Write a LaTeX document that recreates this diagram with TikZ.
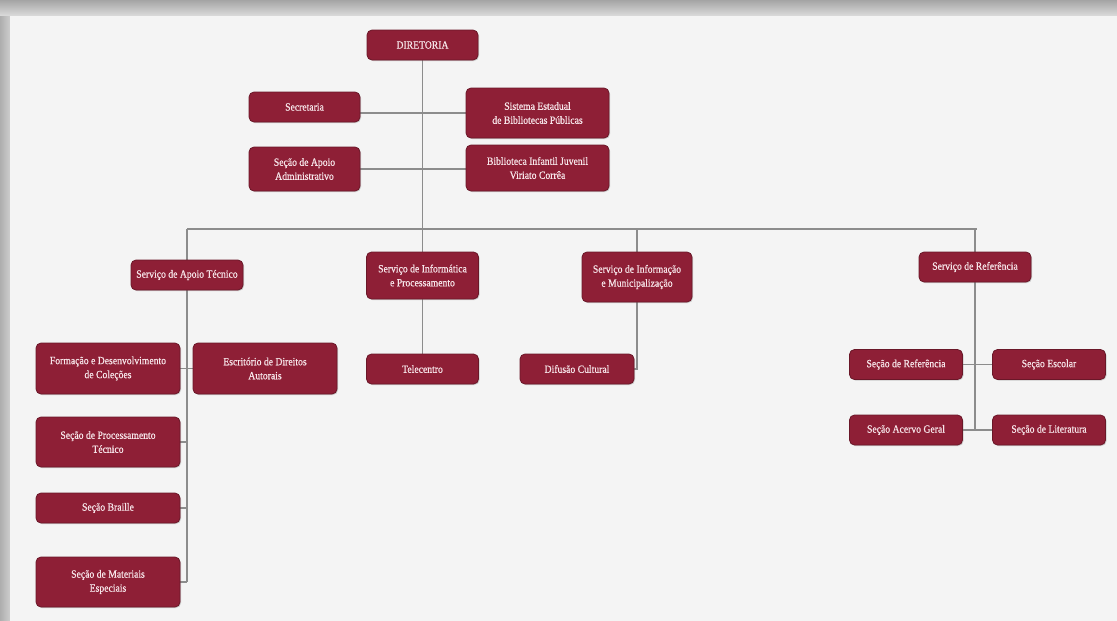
\documentclass[tikz,border=0pt]{standalone}
\usepackage{fontspec}
\setmainfont[FakeStretch=0.88,FakeBold=0.6]{Liberation Serif}
\usetikzlibrary{shadows}
\pgfdeclarelayer{back}
\pgfdeclarelayer{mid}
\pgfsetlayers{back,mid,main}
\definecolor{boxred}{HTML}{8E1F36}
\definecolor{boxtext}{HTML}{F7E6EA}
\definecolor{panel}{HTML}{F4F4F4}
\definecolor{frame}{HTML}{CDCDCD}
\definecolor{linegray}{HTML}{8C8C8C}
\tikzset{
  orgbox/.style={rounded corners=5pt, fill=boxred, draw=boxred!75!black, line width=0.8pt,
    text=boxtext, font=\fontsize{11}{14}\selectfont, align=center, inner sep=0pt,
    drop shadow={shadow xshift=1pt, shadow yshift=-1pt, opacity=0.35}},
  conn/.style={draw=linegray, line width=1.1pt}
}
\begin{document}
\begin{tikzpicture}[x=1pt,y=-1pt]
\useasboundingbox (0,0) rectangle (1117,621);
% background frame
\begin{pgfonlayer}{back}
\shade[top color=frame!80!black, bottom color=frame!70!white] (0,0) rectangle (1117,16);
\shade[left color=frame!85!black, right color=frame] (0,16) rectangle (10,621);
\fill[panel] (10,16) rectangle (1117,621);
\end{pgfonlayer}

% bus coordinates
\coordinate (bl) at (187,229);
\coordinate (br) at (977,229);

% nodes
\node[orgbox, minimum width=111, minimum height=30] (dir) at (422.5,45) {DIRETORIA};
\node[orgbox, minimum width=111, minimum height=30] (sec) at (304.5,107) {Secretaria};
\node[orgbox, minimum width=143, minimum height=50] (sis) at (537.5,113) {Sistema Estadual\\de Bibliotecas Públicas};
\node[orgbox, minimum width=111, minimum height=44] (apo) at (304.5,169) {Seção de Apoio\\Administrativo};
\node[orgbox, minimum width=143, minimum height=46] (bib) at (537.5,168) {Biblioteca Infantil Juvenil\\Viriato Corrêa};

\node[orgbox, minimum width=112, minimum height=30] (sat) at (187,275) {Serviço de Apoio Técnico};
\node[orgbox, minimum width=112, minimum height=47] (sinf) at (422.5,275.5) {Serviço de Informática\\e Processamento};
\node[orgbox, minimum width=110, minimum height=50] (sim) at (637,277) {Serviço de Informação\\e Municipalização};
\node[orgbox, minimum width=112, minimum height=30] (sref) at (975,267) {Serviço de Referência};

\node[orgbox, minimum width=144, minimum height=51] (form) at (108,368.5) {Formação e Desenvolvimento\\de Coleções};
\node[orgbox, minimum width=144, minimum height=51] (esc) at (265,368.5) {Escritório de Direitos\\Autorais};
\node[orgbox, minimum width=112, minimum height=30] (tel) at (422.5,369) {Telecentro};
\node[orgbox, minimum width=114, minimum height=30] (dif) at (577,369) {Difusão Cultural};

\node[orgbox, minimum width=113, minimum height=30] (sr) at (906,364.5) {Seção de Referência};
\node[orgbox, minimum width=113, minimum height=30] (se) at (1049,364.5) {Seção Escolar};
\node[orgbox, minimum width=113, minimum height=30] (sag) at (906,430) {Seção Acervo Geral};
\node[orgbox, minimum width=113, minimum height=30] (slit) at (1049,430) {Seção de Literatura};

\node[orgbox, minimum width=144, minimum height=50] (spt) at (108,442) {Seção de Processamento\\Técnico};
\node[orgbox, minimum width=144, minimum height=30] (sb) at (108,508) {Seção Braille};
\node[orgbox, minimum width=144, minimum height=50] (sme) at (108,582) {Seção de Materiais\\Especiais};

% connectors (behind nodes)
\begin{pgfonlayer}{mid}
\draw[conn] (dir.south) -- (dir.south |- bl);
\draw[conn] (bl) -- (br);
\draw[conn] (sec.east |- sis.west) -- (sis.west);
\draw[conn] (apo.east) -- (apo.east -| bib.west);
\draw[conn] (sat.north) -- (sat.north |- bl);
\draw[conn] (sinf.north) -- (sinf.north |- bl);
\draw[conn] (sim.north) -- (sim.north |- bl);
\draw[conn] (sref.north) -- (sref.north |- br);
% left column
\draw[conn] (sat.south) -- (sat.south |- sme.east);
\draw[conn] (form.east) -- (form.east -| sat.south);
\draw[conn] (esc.west) -- (esc.west -| sat.south);
\draw[conn] (spt.east) -- (spt.east -| sat.south);
\draw[conn] (sb.east) -- (sb.east -| sat.south);
\draw[conn] (sme.east) -- (sme.east -| sat.south);
% informatica
\draw[conn] (sinf.south) -- (tel.north);
% informacao
\draw[conn] (sim.south) |- (dif.east);
% referencia
\draw[conn] (sref.south) -- (sref.south |- sag.east);
\draw[conn] (sr.east) -- (se.west);
\draw[conn] (sag.east) -- (slit.west);
\end{pgfonlayer}
\end{tikzpicture}
\end{document}
